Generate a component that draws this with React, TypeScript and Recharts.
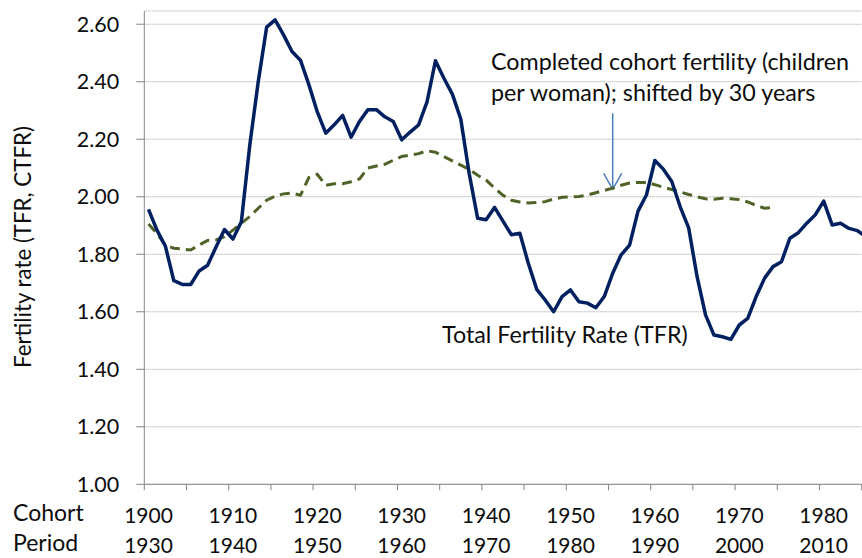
import React from 'react';
import { LineChart, Line, XAxis, YAxis, CartesianGrid, ReferenceLine } from 'recharts';

// cohort years (period = cohort + 30)
const cohortYears = [
  1900, 1901, 1902, 1903, 1904, 1905, 1906, 1907, 1908, 1909,
  1910, 1911, 1912, 1913, 1914, 1915, 1916, 1917, 1918, 1919,
  1920, 1921, 1922, 1923, 1924, 1925, 1926, 1927, 1928, 1929,
  1930, 1931, 1932, 1933, 1934, 1935, 1936, 1937, 1938, 1939,
  1940, 1941, 1942, 1943, 1944, 1945, 1946, 1947, 1948, 1949,
  1950, 1951, 1952, 1953, 1954, 1955, 1956, 1957, 1958, 1959,
  1960, 1961, 1962, 1963, 1964, 1965, 1966, 1967, 1968, 1969,
  1970, 1971, 1972, 1973, 1974, 1975, 1976, 1977, 1978, 1979,
  1980, 1981, 1982, 1983, 1984, 1985,
];

// total fertility rate, plotted by period
const tfr = [
  1.956, 1.884, 1.828, 1.708, 1.695, 1.695, 1.742, 1.762, 1.825, 1.886,
  1.853, 1.913, 2.18, 2.4, 2.59, 2.615, 2.563, 2.505, 2.475, 2.39,
  2.295, 2.221, 2.25, 2.283, 2.207, 2.262, 2.303, 2.303, 2.278, 2.262,
  2.198, 2.225, 2.25, 2.33, 2.473, 2.412, 2.357, 2.27, 2.08, 1.925,
  1.92, 1.963, 1.915, 1.868, 1.873, 1.769, 1.678, 1.641, 1.6, 1.653,
  1.676, 1.635, 1.63, 1.614, 1.653, 1.734, 1.798, 1.832, 1.95, 2.006,
  2.126, 2.096, 2.053, 1.965, 1.892, 1.722, 1.589, 1.519, 1.513, 1.504,
  1.554, 1.577, 1.653, 1.717, 1.757, 1.774, 1.856, 1.875, 1.908, 1.937,
  1.985, 1.902, 1.908, 1.89, 1.882, 1.862,
];

// completed cohort fertility, by cohort
const ctfr = [
  1.905, 1.872, 1.832, 1.821, 1.818, 1.815, 1.832, 1.848, 1.85, 1.861,
  1.884, 1.908, 1.931, 1.96, 1.988, 2.002, 2.01, 2.013, 2.005, 2.067,
  2.078, 2.04, 2.045, 2.045, 2.052, 2.062, 2.1, 2.107, 2.113, 2.127,
  2.14, 2.145, 2.15, 2.16, 2.155, 2.14, 2.125, 2.11, 2.095, 2.075,
  2.058, 2.03, 2.005, 1.988, 1.982, 1.978, 1.98, 1.983, 1.992, 1.998,
  2.0, 2.001, 2.006, 2.014, 2.022, 2.03, 2.04, 2.048, 2.05, 2.05,
  2.042, 2.033, 2.025, 2.017, 2.008, 2.0, 1.993, 1.991, 1.995, 1.993,
  1.99, 1.982, 1.97, 1.96, 1.963,
];

const cohortLabels = [1900, 1910, 1920, 1930, 1940, 1950, 1960, 1970, 1980];
const periodLabels = [1930, 1940, 1950, 1960, 1970, 1980, 1990, 2000, 2010];
const tickMarks = [
  1899.5, 1904.5, 1909.5, 1914.5, 1919.5, 1924.5, 1929.5, 1934.5, 1939.5,
  1944.5, 1949.5, 1954.5, 1959.5, 1964.5, 1969.5, 1974.5, 1979.5, 1984.5,
];
const yTicks = [1.0, 1.2, 1.4, 1.6, 1.8, 2.0, 2.2, 2.4, 2.6];

const data = cohortYears.map((year, i) => ({
  year,
  tfr: tfr[i],
  ctfr: i < ctfr.length ? ctfr[i] : null,
}));

const FONT = 'Lato, "Open Sans", sans-serif';
const AXIS = '#868686';
const TEXT = '#0d0d0d';

function YearTick(props: any) {
  const { x, y, payload } = props;
  const idx = cohortLabels.indexOf(payload.value);
  if (idx < 0) {
    return <line x1={x} y1={y} x2={x} y2={y + 6} stroke={AXIS} strokeWidth={1} />;
  }
  return (
    <g fontFamily={FONT} fontSize={21} fill={TEXT}>
      <text x={x} y={y + 39} textAnchor="middle">{cohortLabels[idx]}</text>
      <text x={x} y={y + 69} textAnchor="middle">{periodLabels[idx]}</text>
    </g>
  );
}

function Arrow(props: any) {
  const { x1, y1, x2, y2 } = props;
  const top = Math.min(y1, y2);
  const tip = Math.max(y1, y2);
  return (
    <g stroke="#4a7ebb" strokeWidth={1.5} fill="none">
      <line x1={x1} y1={top} x2={x2} y2={tip} />
      <polyline points={`${x2 - 9},${tip - 16} ${x2},${tip} ${x2 + 9},${tip - 16}`} />
    </g>
  );
}

export default function App() {
  return (
    <div
      style={{
        position: 'absolute',
        left: 0,
        top: 0,
        width: 862,
        height: 558,
        overflow: 'hidden',
        background: '#fff',
      }}
    >
      <LineChart
        width={900}
        height={558}
        data={data}
        margin={{ top: 11, right: 29.9, bottom: 13.7, left: 0 }}
      >
        <CartesianGrid vertical={false} stroke="#a0a0a0" strokeDasharray="1 1" />
        <XAxis
          dataKey="year"
          type="number"
          domain={[1899.5, 1985.5]}
          ticks={[...tickMarks, ...cohortLabels]}
          interval={0}
          tickLine={false}
          tickSize={0}
          tickMargin={0}
          axisLine={{ stroke: AXIS }}
          tick={<YearTick />}
          height={60}
        />
        <YAxis
          type="number"
          domain={[1, 2.646]}
          ticks={yTicks}
          allowDataOverflow
          tickFormatter={(v: number) => v.toFixed(2)}
          axisLine={{ stroke: AXIS }}
          tickLine={{ stroke: AXIS }}
          tickSize={8}
          tickMargin={17}
          tick={{ fill: TEXT, fontSize: 21.5, fontFamily: FONT }}
          width={144.3}
        />
        <ReferenceLine
          segment={[{ x: 1955, y: 2.29 }, { x: 1955, y: 2.026 }]}
          shape={<Arrow />}
        />
        <Line
          dataKey="ctfr"
          stroke="#4f6228"
          strokeWidth={3}
          strokeDasharray="10 6"
          dot={false}
          activeDot={false}
          isAnimationActive={false}
        />
        <Line
          dataKey="tfr"
          stroke="#002060"
          strokeWidth={3.5}
          strokeLinejoin="round"
          dot={false}
          activeDot={false}
          isAnimationActive={false}
        />
      </LineChart>
      <svg
        width={862}
        height={558}
        style={{ position: 'absolute', left: 0, top: 0, pointerEvents: 'none' }}
        fontFamily={FONT}
        fill={TEXT}
      >
        <text x={31} y={247} fontSize={22.3} textAnchor="middle" transform="rotate(-90, 31, 247)">
          Fertility rate (TFR, CTFR)
        </text>
        <text x={13} y={521} fontSize={23}>Cohort</text>
        <text x={13} y={551} fontSize={23}>Period</text>
        <text x={491} y={70} fontSize={23.3}>Completed cohort fertility (children</text>
        <text x={491} y={101} fontSize={23.3}>per woman); shifted by 30 years</text>
        <text x={442} y={343} fontSize={23.3}>Total Fertility Rate (TFR)</text>
      </svg>
    </div>
  );
}
